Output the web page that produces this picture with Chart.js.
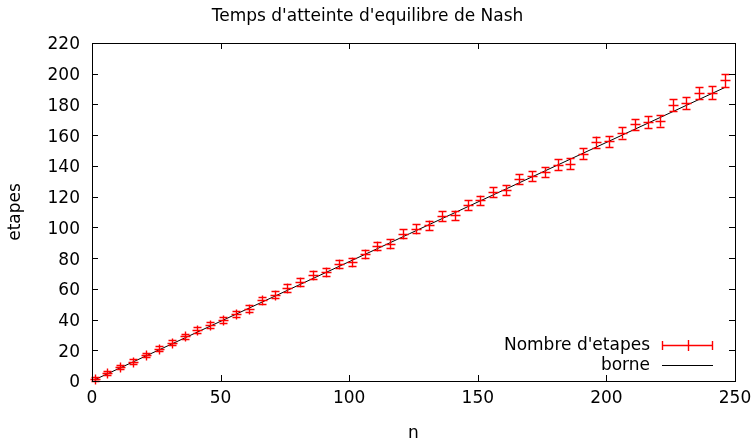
<!DOCTYPE html>
<html>
<head>
<meta charset="utf-8">
<script src="https://cdn.jsdelivr.net/npm/chart.js@4"></script>
<style>
  html, body { margin: 0; padding: 0; background: #fff; }
  #wrap { width: 756px; height: 439px; }
</style>
</head>
<body>
<div id="wrap"><canvas id="nashChart" width="756" height="439"></canvas></div>
<script>
// values
const sizes = [1, 6, 11, 16, 21, 26, 31, 36, 41, 46,
               51, 56, 61, 66, 71, 76, 81, 86, 91, 96,
               101, 106, 111, 116, 121, 126, 131, 136, 141, 146,
               151, 156, 161, 166, 171, 176, 181, 186, 191, 196,
               201, 206, 211, 216, 221, 226, 231, 236, 241, 246];
const steps = [1.3, 5, 9, 12.6, 17, 21, 25, 29, 33, 36.6,
               39.5, 43.6, 47, 52.5, 56, 60.5, 64.4, 68.8, 71, 76.4,
               77.4, 82.5, 88, 89.4, 95.9, 99, 101.3, 107.4, 107.8, 114.7,
               117.6, 123, 124.5, 131.5, 133.2, 136, 140.8, 141.5, 148, 155.5,
               156, 161.5, 167, 168.6, 169.4, 179.4, 181, 187.4, 187.7, 195.7];
const stepErrors = [1.0, 1.2, 1.3, 1.4, 1.5, 1.6, 1.7, 1.8, 1.9, 2.0,
                    2.0, 2.1, 2.2, 2.2, 2.3, 2.4, 2.4, 2.5, 2.5, 2.6,
                    2.6, 2.7, 2.7, 2.8, 2.8, 2.9, 2.9, 3.0, 3.0, 3.1,
                    3.1, 3.2, 3.2, 3.3, 3.3, 3.4, 3.4, 3.5, 3.5, 3.6,
                    3.6, 3.7, 3.7, 3.8, 3.8, 3.9, 3.9, 4.0, 4.0, 4.1];
const borneX = [1, 246];
const borneY = [0.8, 191];
const xTicks = [0, 50, 100, 150, 200, 250];
const yTicks = [0, 20, 40, 60, 80, 100, 120, 140, 160, 180, 200, 220];

const FONT = 'DejaVu Sans';
const FSIZE = 17;
const RED = '#ff0000';

// gnuplot style inward ticks on all four sides
const innerTicks = {
    id: 'innerTicks',
    afterDraw(chart) {
        const { ctx, chartArea: a, scales: { x, y } } = chart;
        ctx.save();
        ctx.strokeStyle = '#000';
        ctx.lineWidth = 1;
        ctx.beginPath();
        xTicks.forEach(v => {
            const px = Math.round(x.getPixelForValue(v)) + 0.5;
            ctx.moveTo(px, a.bottom); ctx.lineTo(px, a.bottom - 6);
            ctx.moveTo(px, a.top); ctx.lineTo(px, a.top + 6);
        });
        yTicks.forEach(v => {
            const py = Math.round(y.getPixelForValue(v)) + 0.5;
            ctx.moveTo(a.left, py); ctx.lineTo(a.left + 6, py);
            ctx.moveTo(a.right, py); ctx.lineTo(a.right - 6, py);
        });
        ctx.stroke();
        ctx.strokeRect(a.left + 0.5, a.top + 0.5, a.right - a.left, a.bottom - a.top);
        ctx.restore();
    }
};

// vertical error bars with caps and '+' marker, drawn over the line
const errorBars = {
    id: 'errorBars',
    afterDatasetsDraw(chart) {
        const { ctx, scales: { x, y } } = chart;
        ctx.save();
        ctx.strokeStyle = RED;
        ctx.lineWidth = 1.4;
        ctx.beginPath();
        sizes.forEach((n, i) => {
            const px = Math.round(x.getPixelForValue(n)) + 0.5;
            const py = Math.round(y.getPixelForValue(steps[i])) + 0.5;
            const top = y.getPixelForValue(steps[i] + stepErrors[i]);
            const bot = y.getPixelForValue(steps[i] - stepErrors[i]);
            ctx.moveTo(px, Math.min(top, py - 5)); ctx.lineTo(px, Math.max(bot, py + 5));
            ctx.moveTo(px - 5, py); ctx.lineTo(px + 5, py);
            ctx.moveTo(px - 4, Math.round(top) + 0.5); ctx.lineTo(px + 4, Math.round(top) + 0.5);
            ctx.moveTo(px - 4, Math.round(bot) + 0.5); ctx.lineTo(px + 4, Math.round(bot) + 0.5);
        });
        ctx.stroke();
        ctx.restore();
    }
};

// key in the lower right corner, gnuplot style
const keyBox = {
    id: 'keyBox',
    afterDraw(chart) {
        const { ctx, chartArea: a } = chart;
        const labels = chart.data.datasets.map(d => d.label);
        const textRight = a.right - 85;
        const x0 = a.right - 73, x1 = a.right - 22;
        const y0 = a.bottom - 36, y1 = a.bottom - 16;
        ctx.save();
        ctx.font = FSIZE + 'px "' + FONT + '"';
        ctx.fillStyle = '#000';
        ctx.textAlign = 'right';
        ctx.textBaseline = 'middle';
        ctx.fillText(labels[0], textRight, y0 + 1);
        ctx.fillText(labels[1], textRight, y1 + 1);
        ctx.lineWidth = 1.4;
        ctx.strokeStyle = RED;
        ctx.beginPath();
        ctx.moveTo(x0, y0 + 0.5); ctx.lineTo(x1, y0 + 0.5);
        ctx.moveTo(x0 + 0.5, y0 - 4); ctx.lineTo(x0 + 0.5, y0 + 5);
        ctx.moveTo(x1 - 0.5, y0 - 4); ctx.lineTo(x1 - 0.5, y0 + 5);
        const mx = Math.round((x0 + x1) / 2) + 0.5;
        ctx.moveTo(mx, y0 - 5); ctx.lineTo(mx, y0 + 6);
        ctx.stroke();
        ctx.lineWidth = 1;
        ctx.strokeStyle = '#000';
        ctx.beginPath();
        ctx.moveTo(x0, y1 + 0.5); ctx.lineTo(x1, y1 + 0.5);
        ctx.stroke();
        ctx.restore();
    }
};

const ctx = document.getElementById('nashChart').getContext('2d');
new Chart(ctx, {
    type: 'scatter',
    data: {
        datasets: [{
            label: "Nombre d'etapes",
            data: sizes.map((n, i) => ({ x: n, y: steps[i] })),
            pointRadius: 0,
            borderColor: RED,
            backgroundColor: RED,
            showLine: false
        }, {
            label: 'borne',
            data: borneX.map((n, i) => ({ x: n, y: borneY[i] })),
            showLine: true,
            borderColor: '#000',
            borderWidth: 1,
            pointRadius: 0
        }]
    },
    options: {
        responsive: false,
        animation: false,
        events: [],
        layout: { padding: { top: 0, right: 21, bottom: 0, left: 0 } },
        plugins: {
            legend: { display: false },
            tooltip: { enabled: false },
            title: {
                display: true,
                text: "Temps d'atteinte d'equilibre de Nash",
                color: '#000',
                font: { family: FONT, size: FSIZE, weight: 'normal' },
                padding: { top: 6, bottom: 16.6 }
            }
        },
        scales: {
            x: {
                type: 'linear',
                min: 0,
                max: 250,
                afterBuildTicks: s => { s.ticks = xTicks.map(v => ({ value: v })); },
                afterFit: s => { s.height = 58; },
                grid: { display: false },
                border: { display: false },
                ticks: { color: '#000', padding: -1, font: { family: FONT, size: FSIZE } },
                title: {
                    display: true, text: 'n', color: '#000',
                    font: { family: FONT, size: FSIZE }, padding: { top: 0, bottom: -5 }
                }
            },
            y: {
                type: 'linear',
                min: 0,
                max: 220,
                afterBuildTicks: s => { s.ticks = yTicks.map(v => ({ value: v })); },
                afterFit: s => { s.width = 92; },
                grid: { display: false },
                border: { display: false },
                ticks: { color: '#000', padding: 4, labelOffset: 2, font: { family: FONT, size: FSIZE } },
                title: {
                    display: true, text: 'etapes', color: '#000',
                    font: { family: FONT, size: FSIZE }, padding: { top: 5, bottom: 0 }
                }
            }
        }
    },
    plugins: [errorBars, innerTicks, keyBox]
});
</script>
</body>
</html>
